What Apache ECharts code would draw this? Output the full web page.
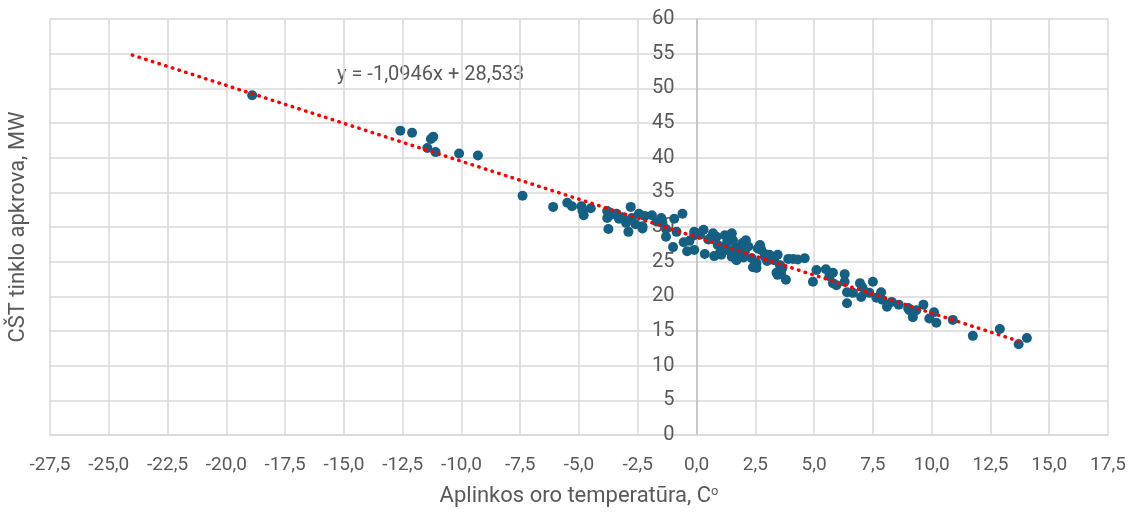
<!DOCTYPE html>
<html>
<head>
<meta charset="utf-8">
<script src="https://cdn.jsdelivr.net/npm/echarts@6/dist/echarts.min.js"></script>
<style>
  html, body { margin: 0; padding: 0; background: #fff; }
  #chart { width: 1128px; height: 513px; }
</style>
</head>
<body>
<div id="chart"></div>
<script>
// aplinkos temperatūra (x) ir CŠT apkrova (y), nuskaityta iš grafiko
const tempX = [
  -18.9, -12.6, -12.1, -11.3, -11.2, -11.45, -11.1, -10.1, -9.3, -7.4,
  -6.1, -5.5, -5.3, -4.9, -4.85, -4.8, -4.5, -3.8, -3.8, -3.75,
  -3.4, -3.3, -3.15, -3.0, -2.9, -2.8, -2.75, -2.45, -2.3, -2.3,
  -2.2, -1.9, -1.5, -1.45, -1.3, -1.3, -0.95, -0.6, -1.0, -0.85,
  -0.55, -0.4, -0.1, -0.1, 0.0, -0.1, 0.3, 0.35, 0.7, 0.75,
  0.85, 1.05, 1.2, 1.3, 1.4, 1.5, 1.55, 1.7, 1.75, 1.95,
  2.05, 2.1, 2.35, 2.4, 2.55, 2.7, 2.75, 2.9, 3.1, 3.3,
  3.45, 3.55, 3.45, 3.65, 3.8, 3.9, 4.1, 4.6, 1.5, 1.7,
  2.55, 3.4, 3.6, 0.5, 0.9, 1.6, 2.2, 1.1, 0.6, 1.35,
  4.95, 5.1, 5.5, 5.8, 5.8, 5.95, 6.3, 6.4, 6.4, 6.65,
  6.95, 7.0, 7.05, 7.2, 7.35, 7.5, 7.65, 7.85, 7.9, 8.1,
  8.3, 8.6, 9.05, 9.35, 9.65, 9.2, 9.0, 9.9, 10.1, 10.2,
  10.9, 11.75, 12.9, 13.7, 14.05, 5.65, 6.3, 1.8, 2.0, 2.6,
  -2.6, -3.6, -1.7, 0.15, 1.0, 1.9, 3.0, 4.3, -0.3, 2.9
];
const loadY = [
  49.0, 43.9, 43.6, 42.7, 43.0, 41.4, 40.8, 40.6, 40.3, 34.5,
  32.9, 33.5, 33.0, 33.0, 32.3, 31.7, 32.7, 32.3, 31.3, 29.7,
  31.9, 31.2, 31.4, 30.6, 29.3, 32.9, 31.3, 31.9, 30.1, 29.8,
  31.6, 31.7, 31.3, 30.6, 29.7, 28.6, 31.2, 31.9, 27.1, 29.3,
  27.8, 26.5, 26.7, 28.8, 29.1, 29.3, 29.6, 26.1, 29.1, 25.8,
  28.6, 26.0, 28.8, 27.8, 28.8, 25.7, 28.1, 25.5, 27.0, 27.7,
  26.4, 28.1, 25.5, 24.2, 24.8, 27.4, 26.7, 25.7, 26.0, 25.2,
  26.0, 24.5, 23.1, 24.1, 22.4, 25.4, 25.4, 25.5, 29.1, 25.2,
  24.1, 23.4, 23.2, 28.2, 27.4, 26.8, 27.2, 27.0, 28.4, 26.6,
  22.1, 23.8, 23.9, 23.4, 21.9, 21.6, 22.1, 20.6, 19.0, 20.5,
  21.9, 19.9, 21.3, 20.6, 20.5, 22.1, 19.8, 20.6, 19.5, 18.5,
  19.2, 18.8, 18.0, 18.0, 18.8, 17.0, 18.3, 16.8, 17.7, 16.2,
  16.6, 14.3, 15.3, 13.1, 14.0, 22.9, 23.2, 26.1, 25.6, 26.9,
  30.4, 31.8, 30.8, 28.9, 26.3, 26.7, 25.1, 25.3, 28.0, 26.1
];

// tiesinė tendencija, kaip parodyta grafike
const trendSlope = -1.0946;
const trendIntercept = 28.533;
const trendRange = [-24, 13.8];
const trendLabel = 'y = -1,0946x + 28,533';

const xMin = -27.5, xMax = 17.5;

const points = tempX.map((x, i) => [x, loadY[i]]);
const trendData = trendRange.map(x => [x, trendSlope * x + trendIntercept]);

const textColor = '#595959';
const gridColor = '#d9d9d9';
const fontFamily = 'Roboto, "Liberation Sans", sans-serif';
const fmt = v => v.toFixed(1).replace('.', ',');

const gridLeft = 50, gridRight = 20;
const gridWidth = 1128 - gridLeft - gridRight;
// y ašis kerta x ašį ties 0
const yAxisShift = (0 - xMin) / (xMax - xMin) * gridWidth;

const chart = echarts.init(document.getElementById('chart'));
chart.setOption({
  animation: false,
  textStyle: { fontFamily: fontFamily },
  grid: { left: gridLeft, right: gridRight, top: 19, bottom: 78, containLabel: false, outerBoundsMode: 'none' },
  xAxis: {
    type: 'value',
    min: xMin,
    max: xMax,
    interval: 2.5,
    name: 'Aplinkos oro temperatūra, C{sup|o}',
    nameLocation: 'middle',
    nameGap: 50,
    nameTextStyle: {
      color: textColor, fontSize: 22,
      rich: { sup: { fontSize: 13, color: textColor, verticalAlign: 'top', padding: [0, 0, 10, 0] } }
    },
    axisLine: { lineStyle: { color: gridColor, width: 1.5 } },
    axisTick: { show: false },
    axisLabel: { color: textColor, fontSize: 19, margin: 21, formatter: fmt },
    splitLine: { show: true, lineStyle: { color: gridColor, width: 1.5 } }
  },
  yAxis: {
    type: 'value',
    min: 0,
    max: 60,
    interval: 5,
    position: 'left',
    offset: -yAxisShift,
    axisLine: { show: true, onZero: false, lineStyle: { color: '#bfbfbf', width: 1.5 } },
    axisTick: { show: false },
    axisLabel: { color: textColor, fontSize: 20, margin: 22 },
    splitLine: { show: true, lineStyle: { color: gridColor, width: 1.5 } }
  },
  series: [
    {
      type: 'scatter',
      data: points,
      symbolSize: 10,
      itemStyle: { color: '#156082', opacity: 1 },
      z: 2
    },
    {
      type: 'line',
      data: trendData,
      symbol: 'none',
      lineStyle: { color: '#ff0000', width: 3.5, type: [0.5, 6.5], cap: 'round' },
      z: 3
    }
  ],
  graphic: [
    {
      type: 'text',
      left: 337,
      top: 65,
      style: { text: trendLabel, fill: textColor, fontSize: 20, fontFamily: fontFamily }
    },
    {
      type: 'text',
      x: 7,
      y: 227,
      rotation: Math.PI / 2,
      style: {
        text: 'CŠT tinklo apkrova, MW', fill: textColor, fontSize: 22,
        fontFamily: fontFamily, align: 'center', verticalAlign: 'top'
      }
    }
  ]
});
</script>
</body>
</html>
